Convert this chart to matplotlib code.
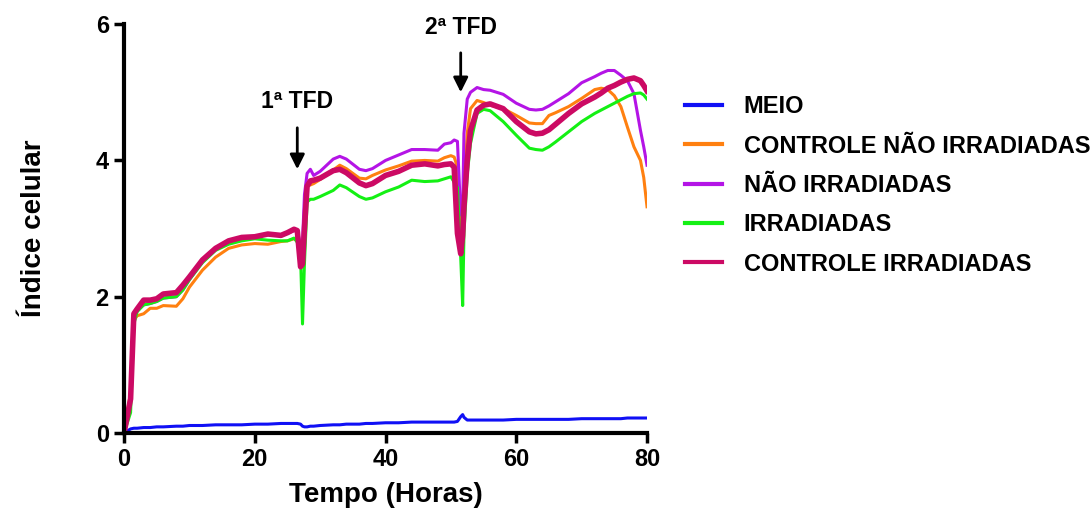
import matplotlib
matplotlib.use("Agg")
import matplotlib.pyplot as plt

plt.rcParams["font.family"] = ["Liberation Sans", "DejaVu Sans"]
plt.rcParams["font.weight"] = "bold"

horas = [0, 1, 1.5, 2, 3, 4, 5, 6, 8, 9,
         10, 12, 14, 16, 18, 20, 22, 24, 25, 26,
         26.5, 27, 27.3, 27.6, 28, 28.5, 29, 30, 32, 33,
         34, 36, 37, 38, 40, 42, 44, 46, 48, 49,
         50, 50.5, 51, 51.5, 51.8, 52, 52.5, 53, 54, 55,
         56, 58, 60, 62, 63, 64, 65, 66, 68, 70,
         72, 73, 74, 75, 76, 77, 78, 79, 79.5, 80]

meio = [0, 0.06, 0.07, 0.07, 0.08, 0.08, 0.09, 0.09, 0.10, 0.10,
        0.11, 0.11, 0.12, 0.12, 0.12, 0.13, 0.13, 0.14, 0.14, 0.14,
        0.14, 0.13, 0.10, 0.09, 0.09, 0.10, 0.10, 0.11, 0.12, 0.12,
        0.13, 0.13, 0.14, 0.14, 0.15, 0.15, 0.16, 0.16, 0.16, 0.16,
        0.16, 0.16, 0.17, 0.24, 0.27, 0.23, 0.19, 0.19, 0.19, 0.19,
        0.19, 0.19, 0.20, 0.20, 0.20, 0.20, 0.20, 0.20, 0.20, 0.21,
        0.21, 0.21, 0.21, 0.21, 0.21, 0.22, 0.22, 0.22, 0.22, 0.22]

controle_nao_irr = [0, 0.6, 1.65, 1.72, 1.75, 1.83, 1.83, 1.87, 1.86, 1.97,
                    2.14, 2.39, 2.58, 2.71, 2.76, 2.78, 2.77, 2.81, 2.82, 2.85,
                    2.85, 2.6, 2.6, 3.2, 3.65, 3.64, 3.66, 3.72, 3.86, 3.93,
                    3.88, 3.74, 3.73, 3.78, 3.86, 3.92, 3.99, 4.0, 3.99, 4.04,
                    4.07, 4.05, 3.9, 2.9, 3.0, 3.6, 4.4, 4.76, 4.88, 4.85,
                    4.81, 4.76, 4.66, 4.55, 4.54, 4.54, 4.66, 4.7, 4.79, 4.91,
                    5.04, 5.06, 5.04, 4.95, 4.79, 4.49, 4.2, 4.0, 3.75, 3.32]

nao_irr = [0, 0.5, 1.72, 1.8, 1.88, 1.9, 1.93, 1.98, 2.0, 2.1,
           2.25, 2.52, 2.7, 2.81, 2.86, 2.88, 2.91, 2.9, 2.93, 2.97,
           2.97, 2.75, 2.8, 3.5, 3.81, 3.87, 3.78, 3.84, 4.02, 4.06,
           4.02, 3.87, 3.85, 3.88, 4.0, 4.08, 4.16, 4.16, 4.15, 4.24,
           4.26, 4.3, 4.28, 3.2, 3.3, 4.4, 4.9, 5.0, 5.07, 5.04,
           5.03, 4.97, 4.84, 4.75, 4.74, 4.75, 4.8, 4.86, 4.98, 5.14,
           5.23, 5.28, 5.32, 5.32, 5.25, 5.17, 4.98, 4.44, 4.2, 3.93]

irradiadas = [0, 0.3, 1.6, 1.78, 1.88, 1.9, 1.93, 1.98, 2.0, 2.1,
              2.25, 2.5, 2.68, 2.77, 2.82, 2.85, 2.83, 2.82, 2.82, 2.86,
              2.8, 2.6, 1.6, 2.5, 3.39, 3.43, 3.43, 3.47, 3.56, 3.64,
              3.6, 3.47, 3.43, 3.45, 3.54, 3.61, 3.71, 3.69, 3.7, 3.73,
              3.76, 3.68, 3.6, 2.58, 1.87, 2.93, 3.8, 4.25, 4.69, 4.75,
              4.73, 4.57, 4.37, 4.18, 4.16, 4.15, 4.2, 4.27, 4.42, 4.57,
              4.69, 4.74, 4.79, 4.84, 4.89, 4.94, 4.98, 4.99, 4.96, 4.9]

controle_irr = [0, 0.5, 1.75, 1.82, 1.95, 1.95, 1.97, 2.04, 2.06, 2.17,
                2.29, 2.54, 2.71, 2.82, 2.87, 2.88, 2.92, 2.9, 2.94, 2.99,
                2.97, 2.44, 2.48, 3.0, 3.62, 3.7, 3.71, 3.74, 3.85, 3.87,
                3.82, 3.67, 3.63, 3.66, 3.78, 3.84, 3.93, 3.95, 3.92, 3.94,
                3.95, 3.9, 2.93, 2.63, 2.9, 3.32, 4.0, 4.44, 4.74, 4.81,
                4.83, 4.76, 4.57, 4.42, 4.39, 4.4, 4.45, 4.53, 4.69, 4.83,
                4.93, 4.99, 5.06, 5.1, 5.15, 5.19, 5.21, 5.17, 5.1, 5.02]

series = [
    ("MEIO", meio, "#1010f5", 2.2),
    ("CONTROLE NÃO IRRADIADAS", controle_nao_irr, "#ff8010", 2.2),
    ("NÃO IRRADIADAS", nao_irr, "#b414e6", 2.2),
    ("IRRADIADAS", irradiadas, "#14f014", 2.2),
    ("CONTROLE IRRADIADAS", controle_irr, "#cc0a64", 4.0),
]

fig = plt.figure(figsize=(10.92, 5.14), dpi=100)
ax = fig.add_axes([0.1136, 0.1576, 0.4789, 0.7954])

for label, values, color, lw in series:
    ax.plot(horas, values, color=color, lw=lw, label=label)

ax.set_xlim(0, 80)
ax.set_ylim(0, 6)
ax.set_xticks([0, 20, 40, 60, 80])
ax.set_yticks([0, 2, 4, 6])
for side in ["top", "right"]:
    ax.spines[side].set_visible(False)
for side in ["left", "bottom"]:
    ax.spines[side].set_linewidth(3)
ax.tick_params(width=2.5, length=7, labelsize=17, pad=4)
for t in ax.get_xticklabels() + ax.get_yticklabels():
    t.set_fontweight("bold")

ax.set_xlabel("Tempo (Horas)", fontsize=20, fontweight="bold", labelpad=8)
ax.set_ylabel("Índice celular", fontsize=20, fontweight="bold", labelpad=35)

# arrows marking the two treatments
for txt, x, y_top, y_tip, y_txt in [("1ª TFD", 26.5, 4.52, 3.83, 4.87),
                                    ("2ª TFD", 51.5, 5.62, 4.96, 5.95)]:
    ax.annotate("", xy=(x, y_tip), xytext=(x, y_top),
                arrowprops=dict(arrowstyle="-|>", color="black", lw=2,
                                mutation_scale=22), annotation_clip=False)
    ax.text(x, y_txt, txt, ha="center", va="center", fontsize=16.5,
            fontweight="bold", clip_on=False)

leg = ax.legend(loc="upper left", bbox_to_anchor=(1.054, 0.849), frameon=False,
                fontsize=17, handlelength=1.57, handletextpad=0.93,
                labelspacing=0.69, borderaxespad=0)
for line in leg.get_lines():
    line.set_linewidth(3)
for t in leg.get_texts():
    t.set_fontweight("bold")

fig.savefig("out.png", dpi=100)
